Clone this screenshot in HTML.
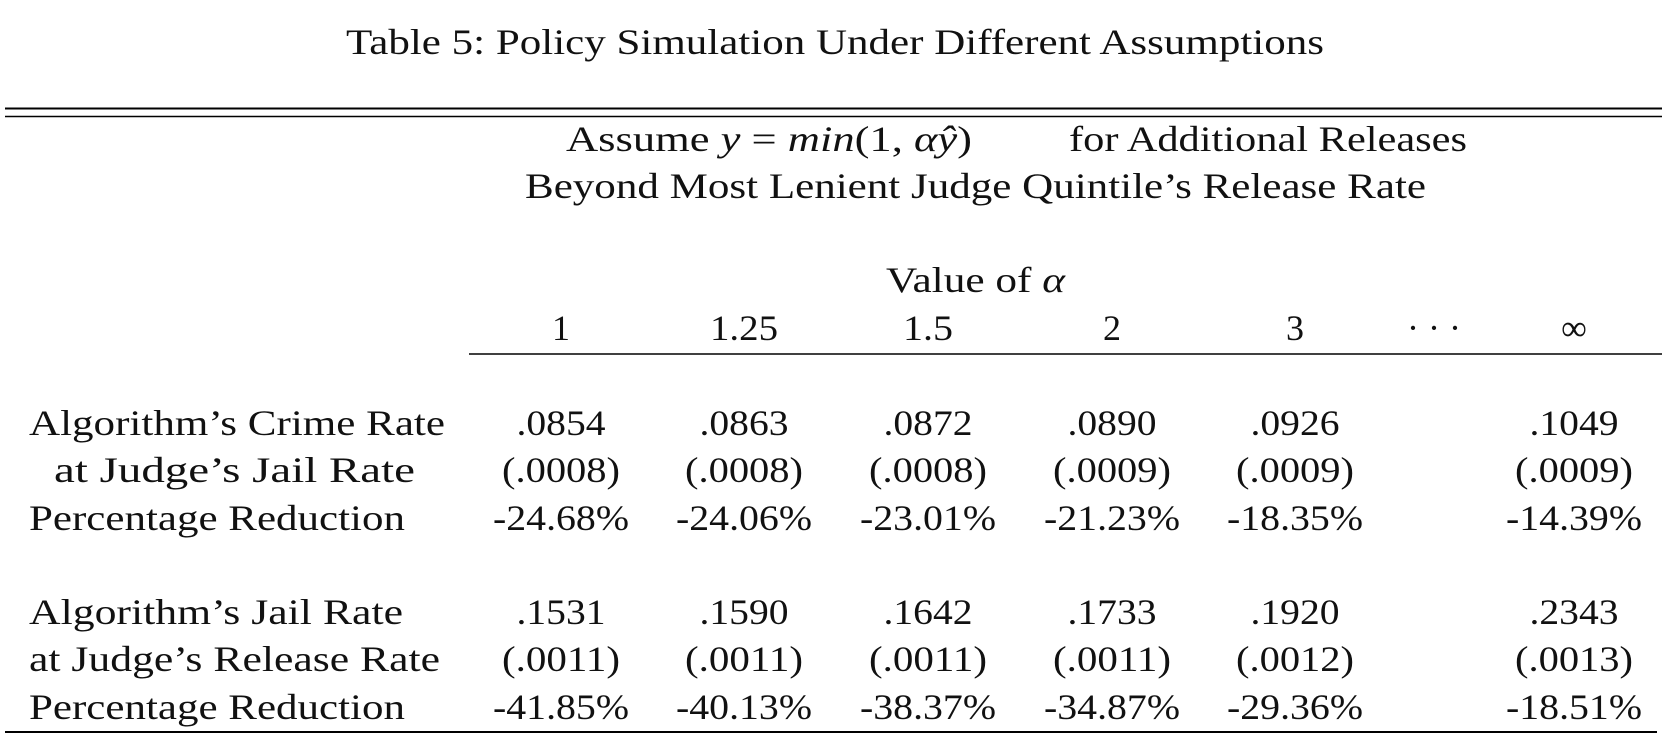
<!DOCTYPE html>
<html><head><meta charset="utf-8"><style>
html,body{margin:0;padding:0;background:#fff;}
svg{display:block;}
text{font-family:"Liberation Serif",serif;fill:#111;font-size:36px;}
</style></head><body>
<svg width="1676" height="742" viewBox="0 0 1676 742">
<text x="835" y="54" text-anchor="middle" textLength="978" lengthAdjust="spacingAndGlyphs">Table 5: Policy Simulation Under Different Assumptions</text>
<line x1="5" x2="1662" y1="108.5" y2="108.5" stroke="#000" stroke-width="2"/>
<line x1="5" x2="1662" y1="116.5" y2="116.5" stroke="#000" stroke-width="1.6"/>
<text x="566" y="151" textLength="406" lengthAdjust="spacingAndGlyphs">Assume <tspan font-style="italic">y</tspan> = <tspan font-style="italic">min</tspan>(1, <tspan font-style="italic">αŷ</tspan>)</text>
<text x="1069" y="151" textLength="398" lengthAdjust="spacingAndGlyphs">for Additional Releases</text>
<text x="525" y="198" textLength="901" lengthAdjust="spacingAndGlyphs">Beyond Most Lenient Judge Quintile’s Release Rate</text>
<text x="886" y="292" textLength="179" lengthAdjust="spacingAndGlyphs">Value of <tspan font-style="italic">α</tspan></text>
<g text-anchor="middle">
<text x="561" y="340">1</text><text x="744" y="340" textLength="68" lengthAdjust="spacingAndGlyphs">1.25</text><text x="928" y="340" textLength="50" lengthAdjust="spacingAndGlyphs">1.5</text><text x="1112" y="340">2</text><text x="1295" y="340">3</text><text x="1434" y="340">· · ·</text><text x="1574" y="340">∞</text>
</g>
<line x1="469" x2="1662" y1="354" y2="354" stroke="#000" stroke-width="1.6"/>
<g>
<text x="29" y="435" textLength="416" lengthAdjust="spacingAndGlyphs">Algorithm’s Crime Rate</text>
<text x="54" y="482" textLength="361" lengthAdjust="spacingAndGlyphs">at Judge’s Jail Rate</text>
<text x="29" y="530" textLength="376" lengthAdjust="spacingAndGlyphs">Percentage Reduction</text>
<text x="29" y="624" textLength="374" lengthAdjust="spacingAndGlyphs">Algorithm’s Jail Rate</text>
<text x="29" y="671" textLength="411" lengthAdjust="spacingAndGlyphs">at Judge’s Release Rate</text>
<text x="29" y="719" textLength="376" lengthAdjust="spacingAndGlyphs">Percentage Reduction</text>
</g>
<g text-anchor="middle" id="vals"></g>
<line x1="5" x2="1657" y1="732" y2="732" stroke="#000" stroke-width="2"/>
</svg>
<script>
const colX=[561,744,928,1112,1295,1574];
const rowY=[435,482,530,624,671,719];
const rows=[
[".0854",".0863",".0872",".0890",".0926",".1049"],
["(.0008)","(.0008)","(.0008)","(.0009)","(.0009)","(.0009)"],
["-24.68%","-24.06%","-23.01%","-21.23%","-18.35%","-14.39%"],
[".1531",".1590",".1642",".1733",".1920",".2343"],
["(.0011)","(.0011)","(.0011)","(.0011)","(.0012)","(.0013)"],
["-41.85%","-40.13%","-38.37%","-34.87%","-29.36%","-18.51%"]];
const g=document.getElementById('vals');
rows.forEach((r,i)=>r.forEach((v,j)=>{
const t=document.createElementNS('http://www.w3.org/2000/svg','text');
t.setAttribute('x',colX[j]);t.setAttribute('y',rowY[i]);
const w=v.startsWith('(')?118:(v.startsWith('-')?136:89);
t.setAttribute('textLength',w);t.setAttribute('lengthAdjust','spacingAndGlyphs');


t.textContent=v;g.appendChild(t);}));
</script>
</body></html>
